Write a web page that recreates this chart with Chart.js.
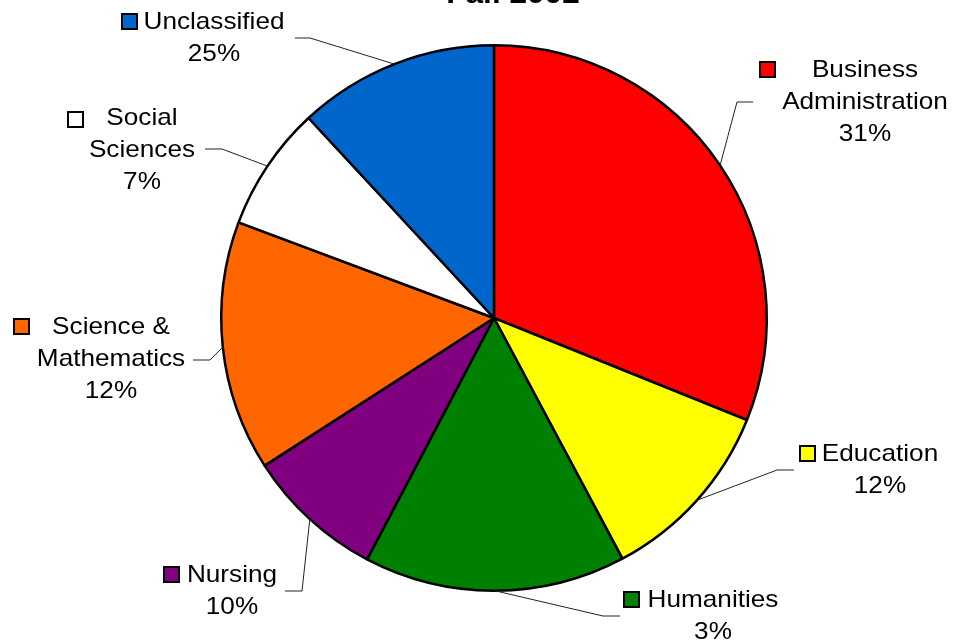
<!DOCTYPE html>
<html><head><meta charset="utf-8">
<script src="https://cdn.jsdelivr.net/npm/chart.js@4/dist/chart.umd.min.js"></script>
<style>html,body{margin:0;padding:0;background:#fff}#wrap{width:953px;height:642px;position:relative}canvas{display:block}</style>
</head><body><div id="wrap"><canvas id="c" width="953" height="642"></canvas></div>
<script>
// ---- data ----
const titleText = "Fall 2002";
const categories = ["Business Administration","Education","Humanities","Nursing","Science & Mathematics","Social Sciences","Unclassified"];
const labelLines = [["Business","Administration"],["Education"],["Humanities"],["Nursing"],["Science &","Mathematics"],["Social","Sciences"],["Unclassified"]];
const sliceValues = [31.1, 11.1, 15.5, 8.2, 14.8, 7.4, 11.9];
const printedPercents = ["31%","12%","3%","10%","12%","7%","25%"];
const sliceColors = ["#FF0000","#FFFF00","#008000","#800080","#FF6600","#FFFFFF","#0066CC"];

// ---- label layout (annotation placement) ----
const labelLayout = [
  {cx:865, y0:70,  key:[760,62],  elbow:[737,102], end:[753,102]},
  {cx:880, y0:454, key:[800,446], elbow:[777,470], end:[794,470]},
  {cx:713, y0:600, key:[624,592], elbow:[603,616], end:[620,616]},
  {cx:232, y0:575, key:[164,567], elbow:[302,591], end:[285,591]},
  {cx:111, y0:327, key:[14,319],  elbow:[210,360], end:[193,360]},
  {cx:142, y0:118, key:[68,112],  elbow:[222,149], end:[205,149]},
  {cx:214, y0:22,  key:[122,14],  elbow:[310,38],  end:[295,38]}
];
const FONT = '24px "Liberation Sans", Arial, sans-serif';
const XSCALE = 1.09;
const LINE_H = 32;

function drawText(ctx, txt, x, y, font, align) {
  ctx.save();
  ctx.font = font;
  ctx.textAlign = align || 'center';
  ctx.textBaseline = 'middle';
  ctx.translate(x, y);
  ctx.scale(XSCALE, 1);
  ctx.fillText(txt, 0, 0);
  ctx.restore();
}

const labelPlugin = {
  id: 'pieLabels',
  afterDraw(chart) {
    const ctx = chart.ctx;
    const meta = chart.getDatasetMeta(0);
    ctx.save();
    ctx.fillStyle = '#000';
    // title (mostly clipped at the top edge, as in the original)
    ctx.save();
    ctx.font = 'bold 29px "Liberation Sans", Arial, sans-serif';
    ctx.textAlign = 'center';
    ctx.textBaseline = 'alphabetic';
    ctx.translate(513, 3);
    ctx.scale(XSCALE, 1);
    ctx.fillText(titleText, 0, 0);
    ctx.restore();

    meta.data.forEach((arc, i) => {
      const L = labelLayout[i];
      const mid = (arc.startAngle + arc.endAngle) / 2;
      const ax = arc.x + Math.cos(mid) * arc.outerRadius;
      const ay = arc.y + Math.sin(mid) * arc.outerRadius;
      // leader line
      ctx.beginPath();
      ctx.strokeStyle = '#222';
      ctx.lineWidth = 1;
      ctx.moveTo(ax, ay);
      ctx.lineTo(L.elbow[0], L.elbow[1]);
      ctx.lineTo(L.end[0], L.end[1]);
      ctx.stroke();
      // legend key
      ctx.fillStyle = sliceColors[i];
      ctx.fillRect(L.key[0], L.key[1], 15, 15);
      ctx.strokeStyle = '#000';
      ctx.lineWidth = 2;
      ctx.strokeRect(L.key[0], L.key[1], 15, 15);
      // text
      ctx.fillStyle = '#000';
      const lines = labelLines[i].concat([printedPercents[i]]);
      lines.forEach((t, k) => drawText(ctx, t, L.cx, L.y0 + k * LINE_H, FONT));
    });
    ctx.restore();
  }
};

new Chart(document.getElementById('c'), {
  type: 'pie',
  data: {
    labels: categories,
    datasets: [{
      data: sliceValues,
      backgroundColor: sliceColors,
      borderColor: '#000',
      borderWidth: 2.5,
      hoverOffset: 0,
      offset: 0
    }]
  },
  options: {
    responsive: false,
    animation: false,
    events: [],
    layout: { padding: { top: 44, bottom: 50, left: 220, right: 185 } },
    plugins: { legend: { display: false }, tooltip: { enabled: false }, title: { display: false } }
  },
  plugins: [labelPlugin]
});
</script>
</body></html>
